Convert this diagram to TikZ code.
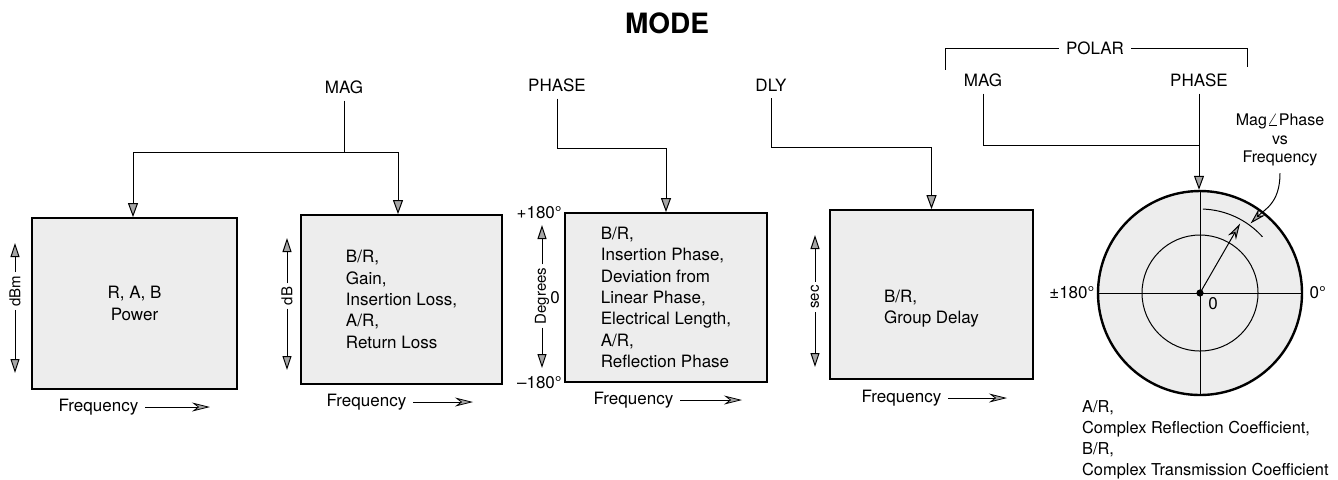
\documentclass[tikz,border=0pt]{standalone}
\usepackage{fontspec}
\setmainfont{TeX Gyre Heros}
\usetikzlibrary{arrows.meta,positioning}

\tikzset{
  lbl/.style={font=\fontsize{8.5}{10.7}\selectfont},
  axlbl/.style={font=\fontsize{7.5}{9}\selectfont, rotate=90, inner sep=1.5pt},
  plotbox/.style={draw, line width=0.9pt, fill=gray!14, font=\fontsize{8.5}{10.7}\selectfont, align=left},
  wire/.style={line width=0.5pt},
  feed/.style={wire, -{Triangle[length=7pt,width=5pt,fill=gray!70]}},
  axarr/.style={wire, -{Triangle[length=7pt,width=4.5pt,fill=gray!70]}},
  freq/.style={line width=0.4pt, -{Stealth[length=9pt,width=4.5pt,fill=gray!70]}},
}

\begin{document}
\begin{tikzpicture}[x=0.5pt,y=-0.5pt]
\useasboundingbox (0,0) rectangle (1338,479);
% titre et touches
\node[font=\fontsize{14}{16}\selectfont\bfseries] (mode) at (667,23) {MODE};
\node[lbl] (mag) at (344,87) {MAG};
\node[lbl] (phase) at (557,85) {PHASE};
\node[lbl] (dly) at (771,85) {DLY};
\node[lbl] (polar) at (1095,48) {POLAR};
\node[lbl] (pmag) at (983,80) {MAG};
\node[lbl] (pphase) at (1199,80) {PHASE};

% ecrans
\node[plotbox, align=center, minimum width=102.5pt, minimum height=85.5pt] (b1) at (134.5,303.5) {R, A, B\\Power};
\node[plotbox, minimum width=100.5pt, minimum height=84.5pt] (b2) at (401.5,299.5) {B/R,\\Gain,\\Insertion Loss,\\A/R,\\Return Loss};
\node[plotbox, minimum width=101pt, minimum height=84.5pt] (b3) at (666,297.5) {B/R,\\Insertion Phase,\\Deviation from\\Linear Phase,\\Electrical Length,\\A/R,\\Reflection Phase};
\node[plotbox, minimum width=101.5pt, minimum height=84.5pt] (b4) at (931.5,294.5) {};
\node[lbl, align=left] (t4) at ([yshift=-7pt]b4.center) {B/R,\\Group Delay};

% liaisons MAG, PHASE, DLY
\coordinate (magl) at (133,152);
\coordinate (magr) at (398,152);
\draw[wire] (mag) -- (mag |- magl);
\draw[wire] (magl) -- (magr);
\draw[feed] (magl) -- (magl |- b1.north);
\draw[feed] (magr) -- (magr |- b2.north);
\coordinate (phk) at (666,148);
\draw[feed] (phase) |- (phk) -- (b3.north);
\coordinate (dlk) at (931.5,147);
\draw[feed] (dly) |- (dlk) -- (b4.north);

% axes verticaux
\node[axlbl] (y1) at (15,291) {dBm};
\coordinate (y1t) at (15,243);
\coordinate (y1b) at (15,373);
\draw[axarr] (y1) -- (y1t);
\draw[axarr] (y1) -- (y1b);
\node[axlbl] (y2) at (287,296) {dB};
\coordinate (y2t) at (287,238);
\coordinate (y2b) at (287,370);
\draw[axarr] (y2) -- (y2t);
\draw[axarr] (y2) -- (y2b);
\node[axlbl] (y3) at (542,296) {Degrees};
\coordinate (y3t) at (542,225);
\coordinate (y3b) at (542,368);
\draw[axarr] (y3) -- (y3t);
\draw[axarr] (y3) -- (y3b);
\node[axlbl] (y4) at (815,297) {sec};
\coordinate (y4t) at (815,235);
\coordinate (y4b) at (815,367);
\draw[axarr] (y4) -- (y4t);
\draw[axarr] (y4) -- (y4b);
\node[lbl, anchor=east, inner sep=1pt] (p180) at (b3.north west) {+180°};
\node[lbl, anchor=east, inner sep=1pt] (m180) at (b3.south west) {--180°};
\node[lbl, anchor=east, inner sep=1pt] (z3) at ([xshift=-1pt]b3.west) {0};

% axes de frequence
\node[lbl] (f1) at (98.5,407) {Frequency};
\coordinate (f1e) at (210,407);
\draw[freq] (f1) -- (f1e);
\node[lbl] (f2) at (366.5,402) {Frequency};
\coordinate (f2e) at (473,402);
\draw[freq] (f2) -- (f2e);
\node[lbl] (f3) at (633.5,400) {Frequency};
\coordinate (f3e) at (742,400);
\draw[freq] (f3) -- (f3e);
\node[lbl] (f4) at (901.5,398) {Frequency};
\coordinate (f4e) at (1007,398);
\draw[freq] (f4) -- (f4e);

% affichage polaire
\node[draw, circle, line width=1.2pt, fill=gray!14, minimum size=102pt, inner sep=0pt] (disp) at (1200,293) {};
\draw[wire] (disp.west) -- (disp.east);
\draw[wire] (disp.north) -- (disp.south);
\draw[wire] (disp.center) circle[radius=29pt];
\path (disp.center) ++(60:40pt) coordinate (vtip);
\draw[wire, -{Stealth[length=8pt,width=4.5pt,fill=gray!70]}] (disp.center) -- (vtip);
\draw[wire] ([shift={(88:42pt)}]disp.center) arc[start angle=88, end angle=42, radius=42pt];
\fill (disp.center) circle[radius=1.8pt];
\node[lbl, anchor=east, inner sep=1pt] (pm180) at (disp.west) {±180°};
\node[lbl, anchor=west, inner sep=1pt] (p0) at ([xshift=2pt]disp.east) {0°};
\node[lbl] (z0) at (1213,304) {0};

% liaisons POLAR
\coordinate (brl) at (945,70);
\coordinate (brr) at (1247,67);
\draw[wire] (polar.west) -| (brl);
\draw[wire] (polar.east) -| (brr);
\coordinate (pk) at (1199,145);
\draw[wire] (pmag) |- (pk);
\draw[feed] (pphase) -- (pphase |- disp.north);

% legende
\node[font=\fontsize{8}{9.3}\selectfont, align=center] (magph) at (1280,140) {Mag$\angle$Phase\\vs\\Frequency};
\path (disp.center) ++(54:43pt) coordinate (arcpt);
\draw[wire, -{Stealth[length=8pt,width=4.5pt,fill=gray!70]}] (magph.south) .. controls +(0,30) and +(14,-14) .. (arcpt);
\node[font=\fontsize{8.2}{10.5}\selectfont, anchor=north west, align=left] (coef) at (1075,393) {A/R,\\Complex Reflection Coefficient,\\B/R,\\Complex Transmission Coefficient};
\end{tikzpicture}
\end{document}
